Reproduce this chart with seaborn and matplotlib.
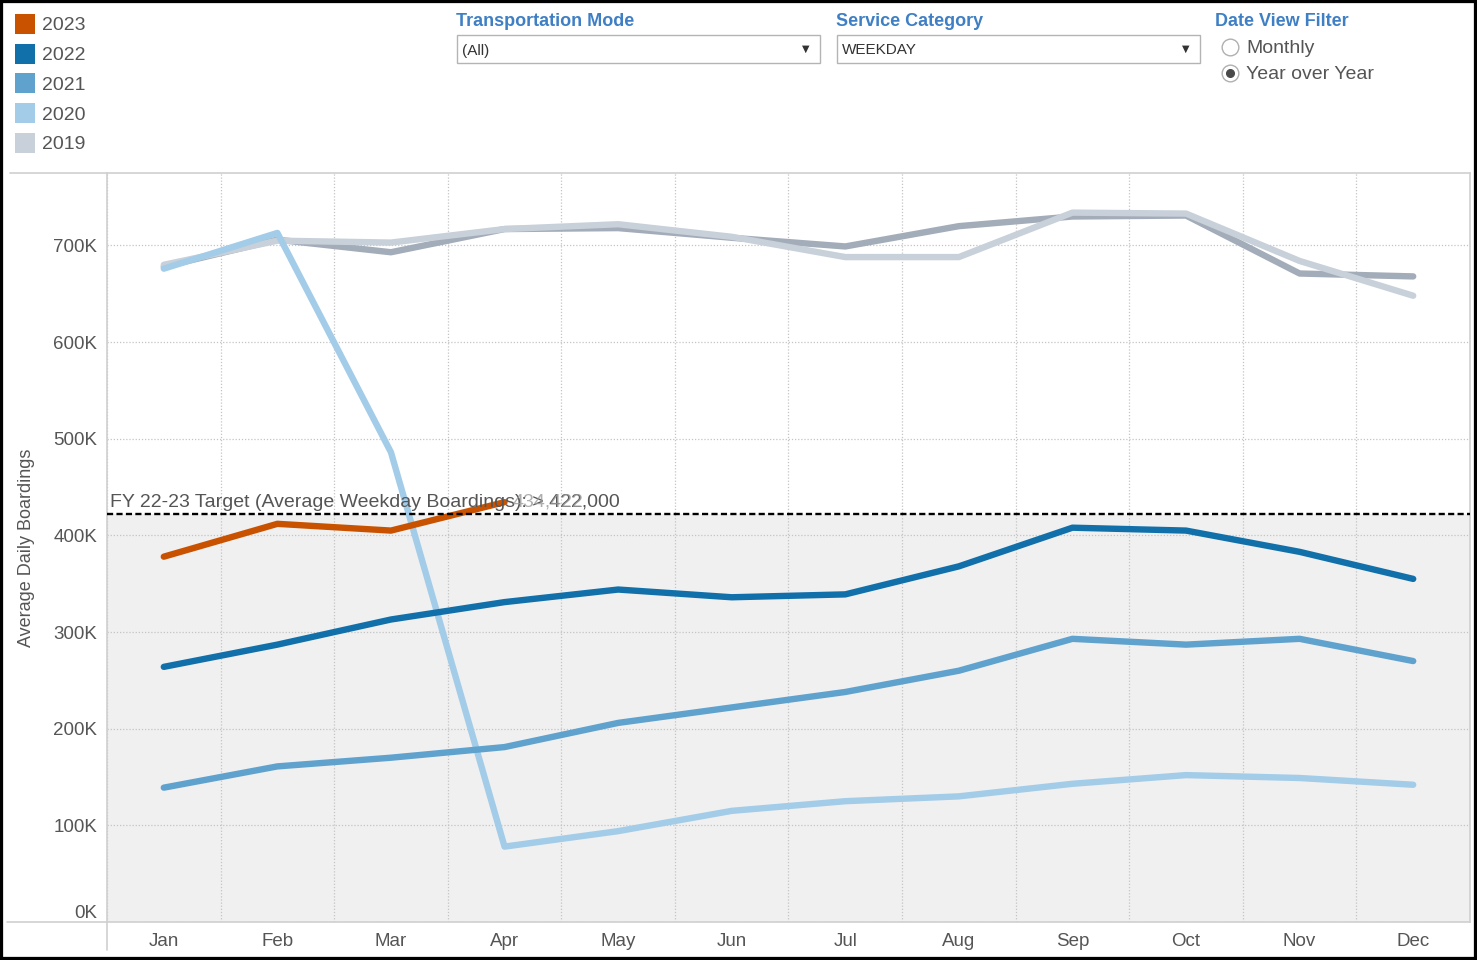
import seaborn as sns
import matplotlib.pyplot as plt
import pandas as pd
import numpy as np
from matplotlib.patches import Rectangle
from matplotlib.lines import Line2D
from matplotlib.ticker import FuncFormatter

# -----------------------------
# 1. Data
# -----------------------------
months = ["Jan", "Feb", "Mar", "Apr", "May", "Jun",
          "Jul", "Aug", "Sep", "Oct", "Nov", "Dec"]
years = ["2018", "2019", "2020", "2021", "2022", "2023"]   # draw order
legend_years = ["2023", "2022", "2021", "2020", "2019"]

boardings_2018 = [678000, 706000, 693000, 717000, 718000, 708000,
                  699000, 720000, 730000, 731000, 671000, 668000]
boardings_2019 = [680000, 705000, 703000, 717000, 722000, 709000,
                  688000, 688000, 734000, 733000, 684000, 648000]
boardings_2020 = [676000, 713000, 486000, 78000, 94000, 115000,
                  125000, 130000, 143000, 152000, 149000, 142000]
boardings_2021 = [139000, 161000, 170000, 181000, 206000, 222000,
                  238000, 260000, 293000, 287000, 293000, 270000]
boardings_2022 = [264000, 287000, 313000, 331000, 344000, 336000,
                  339000, 368000, 408000, 405000, 383000, 355000]
boardings_2023 = [378000, 412000, 405000, 434422]

target = 422000
target_label = "FY 22-23 Target (Average Weekday Boardings): > 422,000"
last_label = "434,422"

series = {
    "2018": boardings_2018,
    "2019": boardings_2019,
    "2020": boardings_2020,
    "2021": boardings_2021,
    "2022": boardings_2022,
    "2023": boardings_2023,
}

rows = []
for yr, vals in series.items():
    for i, v in enumerate(vals):
        rows.append([i, months[i], v, yr])
df = pd.DataFrame(rows, columns=["idx", "Month", "Boardings", "Year"])

palette = {
    "2018": "#a3acb9",
    "2019": "#c8d0d9",
    "2020": "#a3cce9",
    "2021": "#5fa2ce",
    "2022": "#1170aa",
    "2023": "#c85200",
}

# -----------------------------
# 2. Style
# -----------------------------
sns.set_style("white")
plt.rcParams["font.family"] = ["Liberation Sans", "DejaVu Sans"]
txt = "#555555"

W, H = 1477, 960
fig = plt.figure(figsize=(W / 100, H / 100), dpi=100)


def fx(px):
    return px / W


def fy(py):
    return 1 - py / H


ax = fig.add_axes([fx(107), fy(922), fx(1470) - fx(107), fy(173) - fy(922)])

# -----------------------------
# 3. Lines
# -----------------------------
sns.lineplot(data=df, x="idx", y="Boardings", hue="Year", hue_order=years,
             palette=palette, linewidth=4.6, legend=False, errorbar=None,
             sort=False, ax=ax)
for ln in ax.lines:
    ln.set_solid_capstyle("round")
    ln.set_solid_joinstyle("round")
    ln.set_zorder(3)

# shaded area under target + dashed target line
ax.axhspan(0, target, color="#f0f0f0", zorder=0.1, lw=0)
ax.axhline(target, color="black", lw=1.7, ls=(0, (2.6, 1.4)), zorder=4)
ax.annotate(target_label, xy=(-0.5, target), xytext=(2, 2),
            textcoords="offset points", ha="left", va="bottom",
            fontsize=14, color=txt, zorder=5)
ax.annotate(last_label, xy=(3, boardings_2023[3]), xytext=(6, 0),
            textcoords="offset points", ha="left", va="center",
            fontsize=14, color="#9a9a9a", alpha=0.8, zorder=5)

# -----------------------------
# 4. Axes
# -----------------------------
ax.set_xlim(-0.5, 11.5)
ax.set_ylim(0, 775000)
ax.set_xticks(range(len(months)))
ax.set_xticklabels(months)
ax.set_xticks(np.arange(-0.5, 12, 1), minor=True)
ax.set_yticks(np.arange(0, 700001, 100000))
ax.yaxis.set_major_formatter(FuncFormatter(lambda v, _: f"{int(v / 1000)}K"))

ax.set_axisbelow(True)
ax.yaxis.grid(True, linestyle=(0, (1, 1.5)), color="#c4c4c4", lw=0.9)
ax.xaxis.grid(True, which="minor", linestyle=(0, (1, 1.5)), color="#c4c4c4", lw=0.9)
ax.xaxis.grid(False, which="major")

ax.tick_params(axis="x", which="major", length=0, pad=8, labelsize=13.5, labelcolor=txt)
ax.tick_params(axis="x", which="minor", length=12, color="#dcdcdc", width=0.9)
ax.tick_params(axis="y", length=4, color="#dcdcdc", width=0.9, pad=3,
               labelsize=13.5, labelcolor=txt)
ax.get_yticklabels()[0].set_va("bottom")

ax.set_xlabel("")
ax.set_ylabel("Average Daily Boardings", fontsize=13, color=txt)
ax.yaxis.set_label_coords(-0.053, 0.5)

for s in ax.spines.values():
    s.set_color("#d0d0d0")
    s.set_linewidth(1.2)

# frame extensions of the plot panel
fig.add_artist(Line2D([fx(10), fx(107)], [fy(173), fy(173)], color="#d0d0d0", lw=1.2))
fig.add_artist(Line2D([fx(7), fx(107)], [fy(922), fy(922)], color="#d0d0d0", lw=1.2))
fig.add_artist(Line2D([fx(107), fx(107)], [fy(922), fy(950)], color="#d0d0d0", lw=1.2))

# -----------------------------
# 5. Legend (top-left)
# -----------------------------
for k, yr in enumerate(legend_years):
    cy = 24 + k * 29.7
    fig.add_artist(Rectangle((fx(15), fy(cy + 10)), fx(20), fy(cy - 10) - fy(cy + 10),
                             transform=fig.transFigure, color=palette[yr], lw=0))
    fig.text(fx(42), fy(cy + 2), yr, fontsize=14, color=txt, va="center", ha="left")

# -----------------------------
# 6. Filter controls
# -----------------------------
blue = "#3f7fc4"
for x0, x1, title, value in [(457, 820, "Transportation Mode", "(All)"),
                             (837, 1200, "Service Category", "WEEKDAY")]:
    fig.text(fx(x0 - 1), fy(22), title, fontsize=13, color=blue,
             fontweight="bold", va="center", ha="left")
    fig.add_artist(Rectangle((fx(x0), fy(63)), fx(x1) - fx(x0), fy(35) - fy(63),
                             transform=fig.transFigure, fill=False,
                             edgecolor="#b4b4b4", lw=1.0))
    fig.text(fx(x0 + 5), fy(50.5), value, fontsize=11, color="#333333",
             va="center", ha="left")
    fig.text(fx(x1 - 14), fy(49), "\u25BC", fontsize=7, color="#333333",
             va="center", ha="center", family=["DejaVu Sans"])

fig.text(fx(1215), fy(22), "Date View Filter", fontsize=13, color=blue,
         fontweight="bold", va="center", ha="left")
for cy, label, on in [(47, "Monthly", False), (73, "Year over Year", True)]:
    fig.add_artist(Line2D([fx(1230)], [fy(cy)], marker="o", markersize=12,
                          markerfacecolor="white", markeredgecolor="#b0b0b0",
                          markeredgewidth=1.0, transform=fig.transFigure))
    if on:
        fig.add_artist(Line2D([fx(1230)], [fy(cy)], marker="o", markersize=5.5,
                              markerfacecolor="#4a4a4a", markeredgecolor="#4a4a4a",
                              transform=fig.transFigure))
    fig.text(fx(1246), fy(cy + 1.5), label, fontsize=14, color=txt, va="center", ha="left")

# outer black frame
fig.add_artist(Rectangle((0, 0), 1, 1, transform=fig.transFigure, fill=False,
                         edgecolor="black", lw=4.5))

plt.savefig("out.png", dpi=100)
plt.close()
